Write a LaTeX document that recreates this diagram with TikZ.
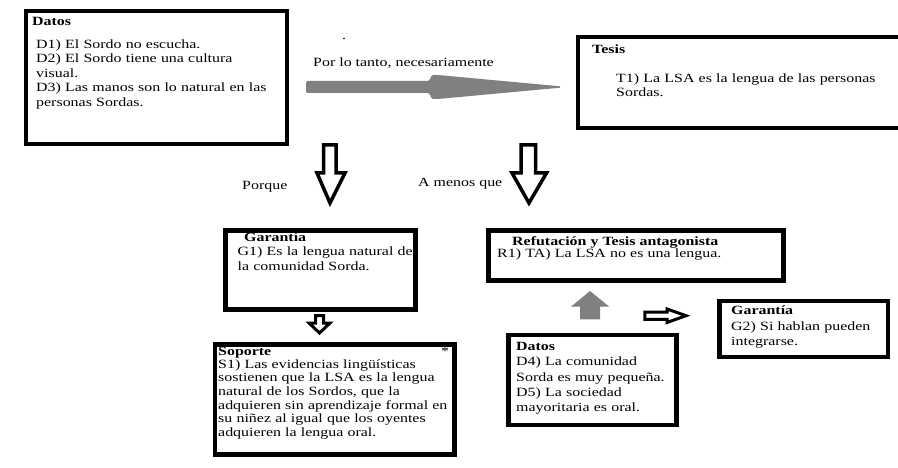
\documentclass[tikz,border=0pt]{standalone}
\usepackage{fontspec}
\setmainfont{Liberation Serif}[FakeStretch=1.265]
\definecolor{arrowgray}{RGB}{128,128,128}
\tikzset{
  boxframe/.style={draw=black, line width=4.3pt, rectangle, inner sep=0pt, outer sep=0pt, anchor=north west},
  hdr/.style={font=\fontsize{12.6}{14.5}\selectfont\bfseries, anchor=base west, inner sep=0pt},
  bodytext/.style={font=\fontsize{12.6}{14.5}\selectfont, anchor=base west, inner sep=0pt, align=left, text width=320pt},
  lbl/.style={font=\fontsize{12.6}{14.5}\selectfont, anchor=base west, inner sep=0pt},
  hollow/.style={draw=black, line width=3.5pt, fill=white, line join=miter},
  hollowsmall/.style={draw=black, line width=3pt, fill=white, line join=miter},
  grayfill/.style={fill=arrowgray, draw=none}
}
\begin{document}
\begin{tikzpicture}[x=1pt,y=-1pt]
\useasboundingbox (0,0) rectangle (898,468);
\fill[white] (0,0) rectangle (898,468);

% ---------- boxes ----------
\node[boxframe, minimum width=261.2pt, minimum height=132.4pt] (datosA) at (25.8,11.3) {};
\begin{scope}
  \clip (0,0) rectangle (898,468);
  \node[boxframe, minimum width=340pt, minimum height=91pt] (tesis) at (578,37) {};
\end{scope}
\node[boxframe, minimum width=190pt, minimum height=79pt] (garA) at (225.5,230.5) {};
\node[boxframe, minimum width=295pt, minimum height=50pt] (refut) at (488.5,230.5) {};
\node[boxframe, minimum width=239.5pt, minimum height=110pt] (soporte) at (215,344.5) {};
\node[boxframe, minimum width=168pt, minimum height=90pt] (datosB) at (508.5,335) {};
\node[boxframe, minimum width=168.5pt, minimum height=56pt] (garB) at (719.5,301) {};

% ---------- texts ----------
\node[hdr] (datosAh) at (32,26) {Datos};
\node[bodytext] (datosAt) at (36,48.5) {D1) El Sordo no escucha.\\D2) El Sordo tiene una cultura\\visual.\\D3) Las manos son lo natural en las\\personas Sordas.};

\node[hdr] (tesish) at (592,54) {Tesis};
\node[bodytext, font=\fontsize{12.6}{13.8}\selectfont] (tesist) at (616,82.3) {T1) La LSA es la lengua de las personas\\Sordas.};

\node[lbl] (dot) at (342,40) {.};
\node[lbl] (portanto) at (313,66.7) {Por lo tanto, necesariamente};

\node[lbl] (porque) at (242,190) {Porque};
\node[lbl] (amenos) at (418,187) {A menos que};

\node[hdr] (garAh) at (244,241.7) {Garantía};
\node[bodytext] (garAt) at (237.5,255.7) {G1) Es la lengua natural de\\la comunidad Sorda.};

\node[hdr] (refuth) at (512,246) {Refutación y Tesis antagonista};
\node[bodytext] (refutt) at (497,257.5) {R1) TA) La LSA no es una lengua.};

\node[hdr] (soporteh) at (218,355.7) {Soporte};
\node[lbl] (ast) at (441,355.7) {*};
\node[bodytext, font=\fontsize{12.6}{13.7}\selectfont] (soportet) at (218,368) {S1) Las evidencias lingüísticas\\sostienen que la LSA es la lengua\\natural de los Sordos, que la\\adquieren sin aprendizaje formal en\\su niñez al igual que los oyentes\\adquieren la lengua oral.};

\node[hdr] (datosBh) at (516,350.7) {Datos};
\node[bodytext, font=\fontsize{12.6}{15.3}\selectfont] (datosBt) at (516,365.7) {D4) La comunidad\\Sorda es muy pequeña.\\D5) La sociedad\\mayoritaria es oral.};

\node[hdr] (garBh) at (731,314.3) {Garantía};
\node[bodytext, font=\fontsize{12.6}{15}\selectfont] (garBt) at (731,330) {G2) Si hablan pueden\\integrarse.};

% ---------- arrows ----------
% big gray arrow: Datos -> Tesis
\fill[grayfill, rounded corners=2pt]
  (306,81) -- (430,81) -- (431,75) -- (438,75) [sharp corners]-- (560,86.3) -- (560,87.7) [rounded corners=2pt]-- (438,99) -- (431,99) -- (430,93) -- (306,93) -- cycle;

% hollow down arrows
\draw[hollow] (323.5,145) -- (336,145) -- (336,173) -- (345,173) -- (330,203) -- (317,173) -- (323.5,173) -- cycle;
\draw[hollow] (521,145) -- (535.5,145) -- (535.5,173) -- (546.5,173) -- (529,203) -- (512,173) -- (521,173) -- cycle;

% small hollow down arrow: Garantia -> Soporte
\draw[hollowsmall] (315.5,315.5) -- (323.5,315.5) -- (323.5,323) -- (330,323) -- (319.5,333) -- (309,323) -- (315.5,323) -- cycle;

% small hollow right arrow: Datos -> Garantia G2
\draw[hollowsmall] (644.8,312) -- (667,312) -- (667,309) -- (686,315.7) -- (667,322.5) -- (667,319.3) -- (644.8,319.3) -- cycle;

% gray up arrow: Datos D4 -> Refutacion
\fill[grayfill] (580,319.3) -- (580,306.7) -- (571,306.7) -- (590,291) -- (609.3,306.7) -- (600,306.7) -- (600,319.3) -- cycle;
\end{tikzpicture}
\end{document}
